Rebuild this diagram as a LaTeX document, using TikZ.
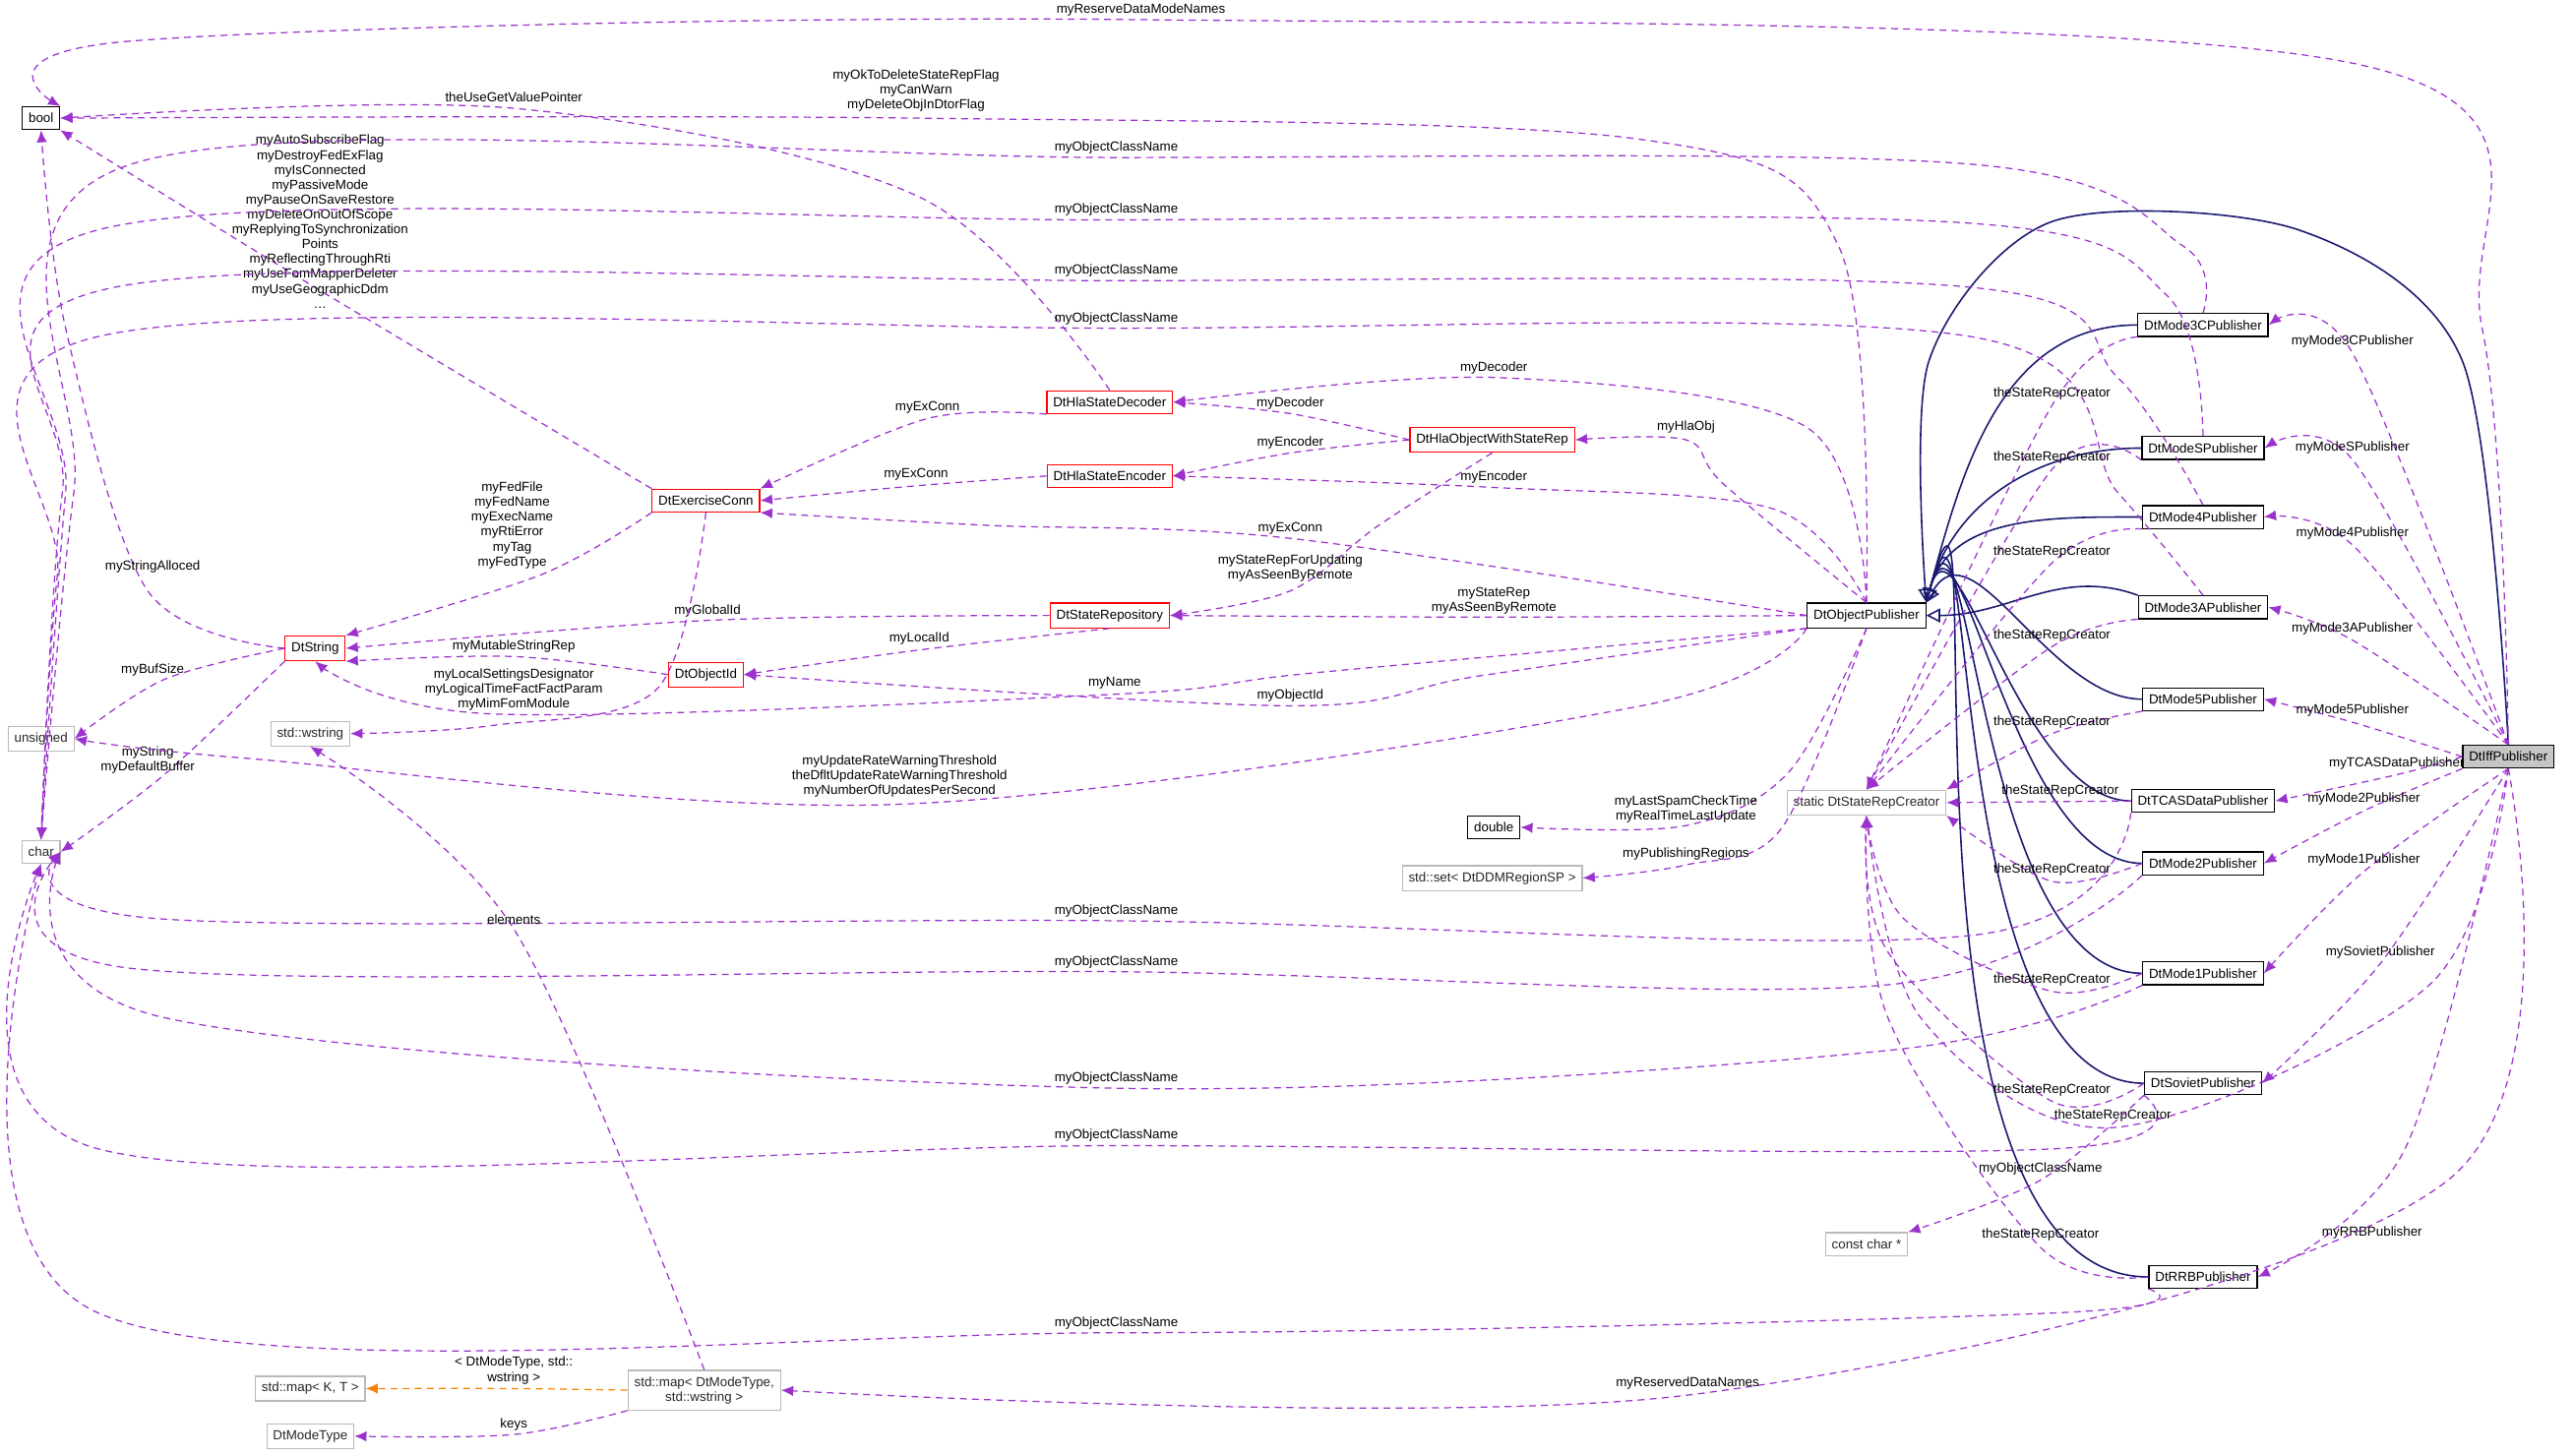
\documentclass[tikz,border=0pt]{standalone}
\usepackage{fontspec}
\setmainfont{Liberation Sans}
\usetikzlibrary{arrows.meta}
\definecolor{usecol}{RGB}{155,50,205}
\definecolor{inhcol}{RGB}{25,25,112}
\newcounter{lblno}
\newcommand\uses[6][]{%
 \draw[use,#1] plot[smooth,tension=0.55] coordinates {(#2) #3 (#4)};
 \stepcounter{lblno}\node[lbl] (lbl\arabic{lblno}) at (#5) {#6};}

\begin{document}
\begin{tikzpicture}[x=0.016684cm,y=-0.016684cm,
 font=\fontsize{3.8}{4.3}\selectfont,
 cls/.style={draw,line width=0.35pt,inner sep=1.8pt,minimum height=6.6pt},
 red/.style={cls,draw=red},
 ext/.style={cls,draw=gray!55,text=gray!30!black},
 lbl/.style={inner sep=0pt,align=center},
 use/.style={draw=usecol,line width=0.35pt,dash pattern=on 2pt off 1.5pt,-{Latex[length=3.5pt,width=3pt]}},
 tmpl/.style={draw=orange,dash pattern=on 2pt off 1.5pt,-{Latex[length=3.5pt,width=3pt]}},
 inherit/.style={draw=inhcol,line width=0.45pt,-{Triangle[open,length=4pt,width=4pt]}}]
\useasboundingbox (0,0) rectangle (1568,887);
% classes
\node[cls] (c_bool) at (25,72) {bool};
\node[ext] (c_unsigned) at (25,450) {unsigned};
\node[ext] (c_char) at (25,519) {char};
\node[red] (c_String) at (192,395) {DtString};
\node[red] (c_ExConn) at (430,305) {DtExerciseConn};
\node[red] (c_Decoder) at (676,245) {DtHlaStateDecoder};
\node[red] (c_Encoder) at (676,290) {DtHlaStateEncoder};
\node[red] (c_HlaObj) at (909,268) {DtHlaObjectWithStateRep};
\node[red] (c_StateRepo) at (676,375) {DtStateRepository};
\node[red] (c_ObjId) at (430,411) {DtObjectId};
\node[ext] (c_wstring) at (189,447) {std::wstring};
\node[cls] (c_ObjPub) at (1137,375) {DtObjectPublisher};
\node[cls] (c_double) at (910,504) {double};
\node[ext] (c_set) at (909,535) {std::set< DtDDMRegionSP >};
\node[ext] (c_Creator) at (1137,489) {static DtStateRepCreator};
\node[ext] (c_cchar) at (1137,758) {const char *};
\node[cls] (p_3C) at (1342,198) {DtMode3CPublisher};
\node[cls] (p_S) at (1342,273) {DtModeSPublisher};
\node[cls] (p_4) at (1342,315) {DtMode4Publisher};
\node[cls] (p_3A) at (1342,370) {DtMode3APublisher};
\node[cls] (p_5) at (1342,426) {DtMode5Publisher};
\node[cls] (p_TCAS) at (1342,488) {DtTCASDataPublisher};
\node[cls] (p_2) at (1342,526) {DtMode2Publisher};
\node[cls] (p_1) at (1342,593) {DtMode1Publisher};
\node[cls] (p_Sov) at (1342,660) {DtSovietPublisher};
\node[cls] (p_RRB) at (1342,778) {DtRRBPublisher};
\node[cls,fill=gray!45] (c_Iff) at (1528,461) {DtIffPublisher};
\node[ext] (c_mapKT) at (189,846) {std::map< K, T >};
\node[ext,align=center] (c_map) at (429,847) {std::map< DtModeType,\\std::wstring >};
\node[ext] (c_ModeType) at (189,875) {DtModeType};
% inheritance
\foreach \p in {p_3C,p_S,p_4,p_TCAS,p_2,p_1,p_Sov,p_RRB}
 \draw[inherit] (\p.west) to[out=180,in=75] (c_ObjPub.north east);
\draw[inherit] (p_3A.north west) to[out=160,in=0] (c_ObjPub.east);
\draw[inherit] (p_5.west) to[out=180,in=60] (c_ObjPub.north east);
\draw[inherit] plot[smooth] coordinates {(c_Iff.north) (1500,220) (1400,140) (1250,135) (1175,220) (c_ObjPub.north east)};
% to bool
\uses{c_Iff.north}{(1512,200) (1440,40) (695,12) (80,25)}{c_bool.north east}{695,6}{myReserveDataModeNames}
\uses{c_ObjPub.north}{(1120,150) (1000,85) (560,72)}{c_bool.east}{558,55}{myOkToDeleteStateRepFlag\\myCanWarn\\myDeleteObjInDtorFlag}
\uses{c_Decoder.north}{(560,120) (313,66)}{c_bool.east}{313,59}{theUseGetValuePointer}
\uses{c_ExConn.north west}{(200,180)}{c_bool.south east}{195,135}{myAutoSubscribeFlag\\myDestroyFedExFlag\\myIsConnected\\myPassiveMode\\myPauseOnSaveRestore\\myDeleteOnOutOfScope\\myReplyingToSynchronization\\Points\\myReflectingThroughRti\\myUseFomMapperDeleter\\myUseGeographicDdm\\\dots}
\uses{c_String.west}{(90,360) (40,200)}{c_bool.south}{93,345}{myStringAlloced}
% to char
\uses{p_3C.north}{(1330,150) (1200,100) (680,96) (80,100) (45,300)}{c_char.north}{680,90}{myObjectClassName}
\uses{p_S.north}{(1320,180) (1200,136) (680,134) (60,140) (40,300)}{c_char.north}{680,128}{myObjectClassName}
\uses{p_4.north}{(1290,230) (1200,175) (680,171) (70,175) (38,300)}{c_char.north}{680,165}{myObjectClassName}
\uses{p_3A.north}{(1290,300) (1200,205) (680,200) (60,205) (35,350)}{c_char.north}{680,194}{myObjectClassName}
\uses{p_TCAS.south west}{(1200,570) (680,561) (100,560)}{c_char.east}{680,555}{myObjectClassName}
\uses{p_2.south west}{(1150,600) (680,592) (80,590)}{c_char.east}{680,586}{myObjectClassName}
\uses{p_1.south west}{(1150,640) (680,663) (100,620)}{c_char.east}{680,657}{myObjectClassName}
\uses{p_Sov.south west}{(1250,700) (680,698) (60,700)}{c_char.south}{680,692}{myObjectClassName}
\uses{p_RRB.south west}{(1250,800) (680,812) (60,800)}{c_char.south}{680,806}{myObjectClassName}
\uses{c_String.south west}{(100,472)}{c_char.east}{90,463}{myString\\myDefaultBuffer}
% DtString and friends
\uses{c_String.west}{(100,414)}{c_unsigned.east}{93,408}{myBufSize}
\uses{c_ObjPub.south west}{(1000,430) (548,490) (150,462)}{c_unsigned.east}{548,473}{myUpdateRateWarningThreshold\\theDfltUpdateRateWarningThreshold\\myNumberOfUpdatesPerSecond}
\uses{c_ExConn.south west}{(330,350)}{c_String.north east}{312,320}{myFedFile\\myFedName\\myExecName\\myRtiError\\myTag\\myFedType}
\uses{c_StateRepo.west}{(431,378)}{c_String.east}{431,372}{myGlobalId}
\uses{c_ObjId.west}{(313,400)}{c_String.south east}{313,394}{myMutableStringRep}
\uses{c_ExConn.south}{(400,420) (300,442)}{c_wstring.east}{313,420}{myLocalSettingsDesignator\\myLogicalTimeFactFactParam\\myMimFomModule}
\uses{c_ObjPub.south west}{(800,410) (679,423) (300,435)}{c_String.south}{679,416}{myName}
\uses{c_Decoder.south west}{(565,255)}{c_ExConn.north east}{565,248}{myExConn}
\uses{c_Encoder.west}{(558,296)}{c_ExConn.east}{558,289}{myExConn}
\uses{c_ObjPub.west}{(786,328) (600,320)}{c_ExConn.south east}{786,322}{myExConn}
\uses{c_HlaObj.west}{(786,252)}{c_Decoder.east}{786,246}{myDecoder}
\uses{c_HlaObj.west}{(786,276)}{c_Encoder.east}{786,270}{myEncoder}
\uses{c_ObjPub.north}{(1100,260) (910,230)}{c_Decoder.east}{910,224}{myDecoder}
\uses{c_ObjPub.north}{(1080,310) (910,297)}{c_Encoder.east}{910,291}{myEncoder}
\uses{c_ObjPub.north}{(1050,295) (1027,268)}{c_HlaObj.east}{1027,260}{myHlaObj}
\uses{c_HlaObj.south}{(840,320) (786,360)}{c_StateRepo.east}{786,346}{myStateRepForUpdating\\myAsSeenByRemote}
\uses{c_ObjPub.west}{(910,376)}{c_StateRepo.east}{910,366}{myStateRep\\myAsSeenByRemote}
\uses{c_StateRepo.south}{(560,396)}{c_ObjId.east}{560,389}{myLocalId}
\uses{c_ObjPub.south west}{(900,412) (786,430)}{c_ObjId.east}{786,424}{myObjectId}
\uses{c_ObjPub.south}{(1090,470) (1027,503)}{c_double.east}{1027,493}{myLastSpamCheckTime\\myRealTimeLastUpdate}
\uses{c_ObjPub.south}{(1085,505) (1027,527)}{c_set.east}{1027,520}{myPublishingRegions}
% state rep creator
\uses{p_3C.south west}{(1250,247)}{c_Creator.north}{1250,240}{theStateRepCreator}
\uses{p_S.south west}{(1250,286)}{c_Creator.north}{1250,279}{theStateRepCreator}
\uses{p_4.south west}{(1250,343)}{c_Creator.north}{1250,336}{theStateRepCreator}
\uses{p_3A.south west}{(1250,394)}{c_Creator.north}{1250,387}{theStateRepCreator}
\uses{p_5.south west}{(1250,447)}{c_Creator.north east}{1250,440}{theStateRepCreator}
\uses{p_TCAS.west}{}{c_Creator.east}{1255,482}{theStateRepCreator}
\uses{p_2.west}{(1250,537)}{c_Creator.south east}{1250,530}{theStateRepCreator}
\uses{p_1.west}{(1250,604) (1160,560)}{c_Creator.south}{1250,597}{theStateRepCreator}
\uses{p_Sov.west}{(1250,671) (1150,580)}{c_Creator.south}{1250,664}{theStateRepCreator}
\uses{p_RRB.west}{(1243,760) (1150,620)}{c_Creator.south}{1243,752}{theStateRepCreator}
\uses{c_Iff.south}{(1480,600) (1287,687) (1170,620)}{c_Creator.south}{1287,680}{theStateRepCreator}
\uses{p_Sov.south west}{(1243,719)}{c_cchar.north east}{1243,712}{myObjectClassName}
% iff members
\uses{c_Iff.north}{(1433,215)}{p_3C.east}{1433,208}{myMode3CPublisher}
\uses{c_Iff.north}{(1433,280)}{p_S.east}{1433,273}{myModeSPublisher}
\uses{c_Iff.north}{(1433,332)}{p_4.east}{1433,325}{myMode4Publisher}
\uses{c_Iff.north}{(1433,390)}{p_3A.east}{1433,383}{myMode3APublisher}
\uses{c_Iff.west}{(1433,440)}{p_5.east}{1433,433}{myMode5Publisher}
\uses{c_Iff.west}{(1460,472)}{p_TCAS.east}{1460,465}{myTCASDataPublisher}
\uses{c_Iff.south west}{(1440,494)}{p_2.east}{1440,487}{myMode2Publisher}
\uses{c_Iff.south}{(1440,531)}{p_1.east}{1440,524}{myMode1Publisher}
\uses{c_Iff.south}{(1450,587)}{p_Sov.east}{1450,580}{mySovietPublisher}
\uses{c_Iff.south}{(1465,700)}{p_RRB.east}{1445,751}{myRRBPublisher}
\uses{c_Iff.south}{(1490,720) (1028,850)}{c_map.east}{1028,843}{myReservedDataNames}
% map template
\uses[tmpl]{c_map.west}{(313,846)}{c_mapKT.east}{313,835}{< DtModeType, std::\\wstring >}
\uses{c_map.south west}{(313,874)}{c_ModeType.east}{313,868}{keys}
\uses{c_map.north}{(313,566)}{c_wstring.south}{313,560}{elements}
\end{tikzpicture}
\end{document}
